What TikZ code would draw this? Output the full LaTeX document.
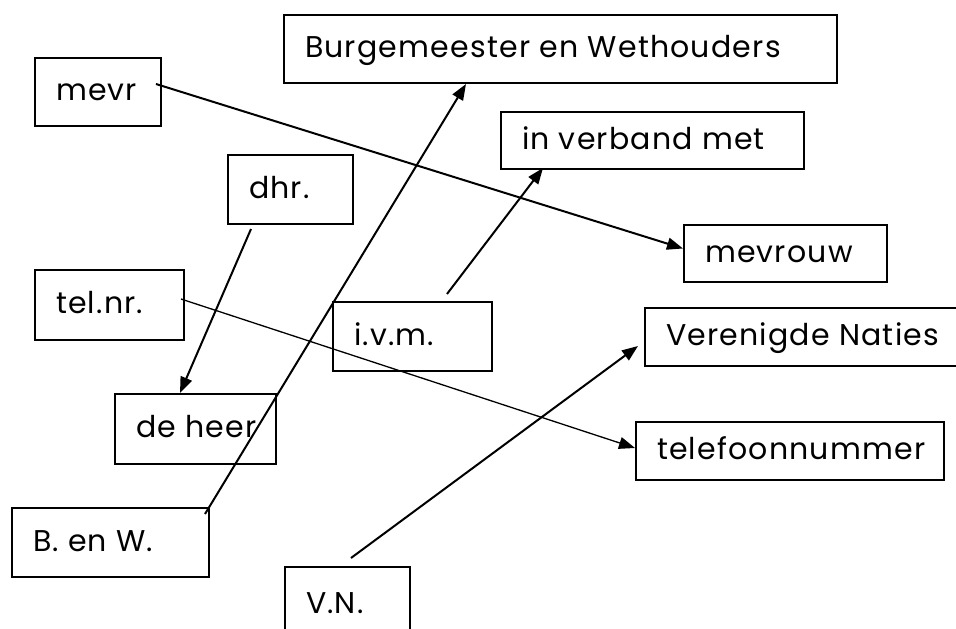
\documentclass[tikz,border=0pt]{standalone}
\usepackage{fontspec}
\setmainfont{Poppins}[LetterSpace=4]
\usetikzlibrary{arrows.meta}
\newcommand{\lbox}[2]{\makebox[#1pt][l]{#2}}
\tikzset{
  wbox/.style={draw, line width=2pt, anchor=north west, inner xsep=21pt, inner ysep=0pt,
    text height=17pt, text depth=0pt, font=\fontsize{30}{34}\selectfont},
  arr/.style={line width=2pt, -{Triangle[length=16pt,width=12pt]}},
}
\begin{document}
\begin{tikzpicture}[x=1pt,y=-1pt]
\useasboundingbox (0,0) rectangle (956,629);
\clip (0,0) rectangle (956,629);
%% left column
\node[wbox, minimum height=68pt] (mevr) at (34,57) {\lbox{84}{mevr}};
\node[wbox, minimum height=69pt] (dhr) at (227,154) {\lbox{83}{dhr.}};
\node[wbox, minimum height=70pt] (telnr) at (34,269) {\lbox{107}{tel.nr.}};
\node[wbox, minimum height=69pt] (ivm) at (332,301) {\lbox{117}{i.v.m.}};
\node[wbox, minimum height=70pt] (deheer) at (114,393) {\lbox{119}{de heer}};
\node[wbox, minimum height=69pt] (benw) at (11,507) {\lbox{155}{B. en W.}};
\node[wbox, minimum height=75pt] (vn) at (284,566) {\lbox{83}{V.N.}};
%% right column
\node[wbox, minimum height=68pt] (burg) at (283,14) {\lbox{511}{Burgemeester en Wethouders}};
\node[wbox, minimum height=57pt] (verband) at (500,111) {\lbox{261}{in verband met}};
\node[wbox, minimum height=57pt] (mevrouw) at (683,224) {\lbox{161}{mevrouw}};
\node[wbox, minimum height=58pt] (vnaties) at (644,307) {\lbox{288}{Verenigde Naties}};
\node[wbox, minimum height=58pt] (telefoon) at (635,421) {\lbox{266}{telefoonnummer}};
%%%%
\draw[arr] ([xshift=-6pt,yshift=8pt]mevr.east) -- ([yshift=5pt]mevrouw.west);
\draw[arr] ([xshift=-5pt,yshift=-7pt]benw.north east) -- ([xshift=183pt]burg.south west);
\draw[arr] ([xshift=24pt,yshift=-4pt]dhr.south west) -- ([xshift=66pt]deheer.north west);
\draw[arr, line width=1.3pt] ([xshift=-4pt,yshift=6pt]telnr.east) -- ([yshift=3pt]telefoon.west);
\draw[arr] ([xshift=115pt,yshift=7pt]ivm.north west) -- ([xshift=43pt,yshift=2pt]verband.south west);
\draw[arr] ([xshift=67pt,yshift=8pt]vn.north west) -- ([xshift=-6pt,yshift=-9pt]vnaties.west);
\end{tikzpicture}
\end{document}
